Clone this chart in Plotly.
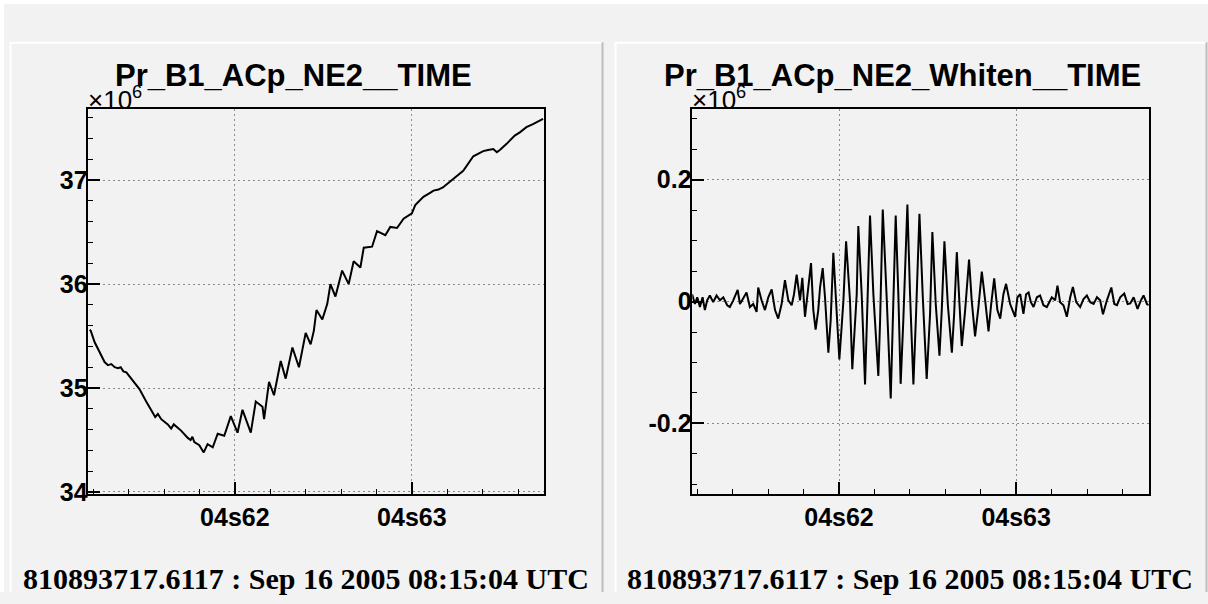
import plotly.graph_objects as go

# ---------------- data ----------------
# Left pad: Pr_B1_ACp_NE2__TIME  (time in s, value in 1e6 units)
left_t = [4.61180, 4.61186, 4.61208, 4.61236, 4.61264, 4.61283, 4.61302, 4.61321, 4.61340,
          4.61355, 4.61370, 4.61387, 4.61424, 4.61461,
          4.61499, 4.61537, 4.61550, 4.61565, 4.61584, 4.61621, 4.61640, 4.61655, 4.61668,
          4.61696, 4.61734, 4.61750, 4.61760, 4.61771,
          4.61799, 4.61824, 4.61846, 4.61875, 4.61903, 4.61940, 4.61977, 4.62015,
          4.62043, 4.62071, 4.62090, 4.62118, 4.62156, 4.62165, 4.62193, 4.62221,
          4.62259, 4.62287, 4.62325, 4.62362, 4.62400, 4.62428, 4.62446, 4.62461,
          4.62494, 4.62522, 4.62540, 4.62568, 4.62606, 4.62643, 4.62671, 4.62709,
          4.62728, 4.62775, 4.62803, 4.62850, 4.62878, 4.62916, 4.62953, 4.63000,
          4.63019, 4.63065, 4.63090, 4.63105, 4.63122, 4.63150, 4.63175, 4.63197,
          4.63244, 4.63290, 4.63347, 4.63403, 4.63430, 4.63460, 4.63480,
          4.63497, 4.63535, 4.63581, 4.63610, 4.63647, 4.63684, 4.63741]
left_v = [35.56, 35.55, 35.44, 35.34, 35.25, 35.22, 35.23, 35.20, 35.19,
          35.20, 35.16, 35.15, 35.07, 34.99,
          34.87, 34.76, 34.72, 34.75, 34.70, 34.65, 34.61, 34.65, 34.63,
          34.59, 34.52, 34.50, 34.53, 34.48,
          34.45, 34.38, 34.46, 34.43, 34.56, 34.54, 34.73, 34.57,
          34.79, 34.67, 34.57, 34.87, 34.82, 34.70, 35.06, 34.93,
          35.26, 35.09, 35.39, 35.20, 35.53, 35.42, 35.55, 35.75,
          35.66, 35.81, 36.00, 35.88, 36.13, 36.00, 36.22, 36.16,
          36.35, 36.36, 36.51, 36.47, 36.55, 36.54, 36.63, 36.68,
          36.76, 36.84, 36.86, 36.88, 36.90, 36.91, 36.93, 36.96,
          37.02, 37.09, 37.23, 37.28, 37.29, 37.30, 37.27,
          37.29, 37.35, 37.43, 37.46, 37.51, 37.54, 37.59]

# Right pad: Pr_B1_ACp_NE2_Whiten__TIME
right_t = [4.61171, 4.61187, 4.61200, 4.61215, 4.61230, 4.61243, 4.61256, 4.61271, 4.61290,
           4.61309, 4.61328, 4.61347, 4.61369, 4.61384, 4.61403, 4.61428, 4.61441, 4.61460,
           4.61478, 4.61497, 4.61516, 4.61535, 4.61544, 4.61563, 4.61582, 4.61601, 4.61620,
           4.61639, 4.61657, 4.61676, 4.61695, 4.61714, 4.61733, 4.61746, 4.61761, 4.61780,
           4.61793, 4.61808, 4.61827, 4.61842, 4.61855, 4.61868, 4.61883, 4.61893, 4.61908,
           4.61921, 4.61940, 4.61953, 4.61968, 4.61983, 4.62002, 4.62015, 4.62025, 4.62040,
           4.62055, 4.62062, 4.62075, 4.62089, 4.62100, 4.62109, 4.62128, 4.62147, 4.62160,
           4.62175, 4.62194, 4.62222, 4.62232, 4.62247, 4.62269, 4.62292, 4.62303, 4.62320,
           4.62335, 4.62348, 4.62363, 4.62386, 4.62401, 4.62420, 4.62435, 4.62454, 4.62473,
           4.62495, 4.62514, 4.62527, 4.62546, 4.62567, 4.62580, 4.62595, 4.62614, 4.62637,
           4.62650, 4.62665, 4.62680, 4.62693, 4.62712, 4.62734, 4.62749, 4.62768, 4.62787,
           4.62806, 4.62825, 4.62844, 4.62859, 4.62876, 4.62894, 4.62910, 4.62928, 4.62943,
           4.62966, 4.62994, 4.63007, 4.63023, 4.63041, 4.63056, 4.63070, 4.63083, 4.63098,
           4.63117, 4.63135, 4.63154, 4.63173, 4.63201, 4.63220, 4.63233, 4.63248, 4.63267,
           4.63286, 4.63305, 4.63320, 4.63339, 4.63361, 4.63380, 4.63399, 4.63418, 4.63437,
           4.63456, 4.63474, 4.63490, 4.63512, 4.63537, 4.63554, 4.63569, 4.63587, 4.63610,
           4.63629, 4.63644, 4.63663, 4.63685, 4.63704, 4.63719, 4.63738, 4.63749]
right_v = [0.012, -0.004, 0.007, -0.009, 0.007, -0.014, 0.002, 0.010, -0.001,
           0.010, 0.002, 0.007, -0.006, -0.009, 0.002, 0.019, -0.004, 0.007,
           0.015, -0.009, -0.004, -0.017, 0.023, 0.002, -0.014, 0.007, 0.020,
           -0.014, -0.028, -0.004, 0.035, 0.002, -0.006, 0.012, 0.044, 0.002,
           0.039, -0.025, 0.023, 0.063, -0.014, -0.046, -0.014, 0.023, 0.055,
           0.007, -0.084, -0.031, 0.080, 0.007, -0.095, -0.041, 0.002, 0.099,
           0.034, 0.002, -0.111, -0.031, 0.012, 0.124, 0.012, -0.136, -0.014,
           0.141, 0.012, -0.122, -0.031, 0.151, 0.007, -0.159, -0.041, 0.141,
           0.012, -0.135, -0.031, 0.159, 0.012, -0.136, -0.020, 0.144, 0.007,
           -0.127, -0.020, 0.114, -0.004, -0.089, -0.014, 0.099, -0.004, -0.084,
           -0.020, 0.081, -0.004, -0.073, -0.014, 0.069, 0.002, -0.057, -0.009,
           0.049, 0.002, -0.049, -0.004, 0.038, -0.014, -0.028, 0.012, 0.029,
           -0.004, -0.025, 0.007, 0.012, -0.020, 0.012, 0.015, -0.001, -0.009,
           0.007, 0.010, -0.006, -0.009, 0.007, 0.002, 0.026, -0.001, -0.006,
           -0.025, 0.007, 0.024, -0.001, -0.009, 0.004, 0.010, -0.001, -0.004,
           0.007, 0.002, -0.021, 0.002, 0.023, -0.004, -0.006, 0.007, 0.013,
           -0.004, -0.003, 0.007, -0.012, 0.002, 0.010, -0.004, -0.006]

left_title = "Pr_B1_ACp_NE2__TIME"
right_title = "Pr_B1_ACp_NE2_Whiten__TIME"
footer = "810893717.6117 : Sep 16 2005 08:15:04 UTC"
x_tickvals = [4.62, 4.63]
x_ticktext = ["04s62", "04s63"]
left_y_tickvals = [34, 35, 36, 37]
left_y_ticktext = ["34", "35", "36", "37"]
right_y_tickvals = [-0.2, 0, 0.2]
right_y_ticktext = ["-0.2", "0", "0.2"]

# ---------------- layout helpers ----------------
W, H = 1208, 604
def fx(px):
    return px / W
def fy(py):
    return 1 - py / H

BG = "#f2f2f2"
TICKFONT = dict(family="Liberation Sans", size=25, color="black", weight="bold")
GRID = dict(showgrid=True, gridcolor="#8c8c8c", gridwidth=1, griddash="2px,3px")

def xax(domain, anchor):
    return dict(domain=domain, range=[4.61172, 4.63748], tickmode="array", anchor=anchor,
                tickvals=x_tickvals, ticktext=x_ticktext, ticks="inside", ticklen=12,
                tickwidth=1.5, tickcolor="black", showline=True, mirror=True,
                linecolor="black", linewidth=1.5, zeroline=False, tickfont=TICKFONT,
                minor=dict(ticks="inside", ticklen=5, tickwidth=1, tickcolor="black",
                           dtick=0.002, tick0=4.62, showgrid=False),
                **GRID)

def yax(domain, rng, tv, tt, mdt, anchor):
    return dict(domain=domain, range=rng, tickmode="array", tickvals=tv, ticktext=tt,
                ticks="inside", ticklen=12, tickwidth=1.5, tickcolor="black",
                showline=True, mirror=True, linecolor="black", linewidth=1.5,
                zeroline=False, tickfont=TICKFONT, anchor=anchor, ticklabelstandoff=-6,
                minor=dict(ticks="inside", ticklen=5, tickwidth=1, tickcolor="black",
                           dtick=mdt, tick0=0, showgrid=False),
                **GRID)

ydom = [fy(504), fy(110.7)]

fig = go.Figure()
fig.add_trace(go.Scatter(x=left_t, y=left_v, mode="lines",
                         line=dict(color="black", width=2), xaxis="x", yaxis="y",
                         showlegend=False))
fig.add_trace(go.Scatter(x=right_t, y=right_v, mode="lines",
                         line=dict(color="black", width=2), xaxis="x2", yaxis="y2",
                         showlegend=False))

shapes = []
def line(x0, y0, x1, y1, color, width):
    shapes.append(dict(type="line", xref="paper", yref="paper",
                       x0=fx(x0), y0=fy(y0), x1=fx(x1), y1=fy(y1),
                       line=dict(color=color, width=width), layer="below"))

# canvas outer white edge
shapes.append(dict(type="rect", xref="paper", yref="paper", x0=0, x1=1, y0=fy(4), y1=1,
                   fillcolor="white", line=dict(width=0), layer="below"))
shapes.append(dict(type="rect", xref="paper", yref="paper", x0=0, x1=fx(4), y0=0, y1=1,
                   fillcolor="white", line=dict(width=0), layer="below"))
# pad bevels
line(10, 43.5, 603, 43.5, "white", 2)
line(10.5, 43, 10.5, 604, "white", 2)
line(602.5, 43, 602.5, 604, "#bdbdbd", 2)
line(615, 43.5, 1207, 43.5, "white", 2)
line(615.5, 43, 615.5, 604, "white", 2)
line(1206.5, 43, 1206.5, 604, "#bdbdbd", 2)

TITLEFONT = dict(family="Liberation Sans", size=31, color="black", weight="bold")
EXPFONT = dict(family="Liberation Sans", size=26, color="black")
FOOTFONT = dict(family="Liberation Serif", size=30, color="black", weight="bold")
annotations = [
    dict(text=left_title, x=fx(293), y=fy(97), xref="paper", yref="paper",
         xanchor="center", yanchor="bottom", showarrow=False, font=TITLEFONT),
    dict(text=right_title, x=fx(902), y=fy(97), xref="paper", yref="paper",
         xanchor="center", yanchor="bottom", showarrow=False, font=TITLEFONT),
    dict(text="×10<sup>6</sup>", x=fx(86), y=fy(119), xref="paper", yref="paper",
         xanchor="left", yanchor="bottom", showarrow=False, font=EXPFONT),
    dict(text="×10<sup>6</sup>", x=fx(690), y=fy(119), xref="paper", yref="paper",
         xanchor="left", yanchor="bottom", showarrow=False, font=EXPFONT),
    dict(text=footer, x=fx(306), y=fy(609), xref="paper", yref="paper",
         xanchor="center", yanchor="bottom", showarrow=False, font=FOOTFONT),
    dict(text=footer, x=fx(910), y=fy(609), xref="paper", yref="paper",
         xanchor="center", yanchor="bottom", showarrow=False, font=FOOTFONT),
]

fig.update_layout(
    width=W, height=H, margin=dict(l=0, r=0, t=0, b=0),
    paper_bgcolor=BG, plot_bgcolor=BG,
    xaxis=xax([fx(88.3), fx(544.3)], "y"),
    yaxis=yax(ydom, [33.98, 37.69], left_y_tickvals, left_y_ticktext, 0.2, "x"),
    xaxis2=xax([fx(692.3), fx(1148.7)], "y2"),
    yaxis2=yax(ydom, [-0.3157, 0.3167], right_y_tickvals, right_y_ticktext, 0.05, "x2"),
    shapes=shapes, annotations=annotations, showlegend=False,
)

fig.write_html("out.html")
